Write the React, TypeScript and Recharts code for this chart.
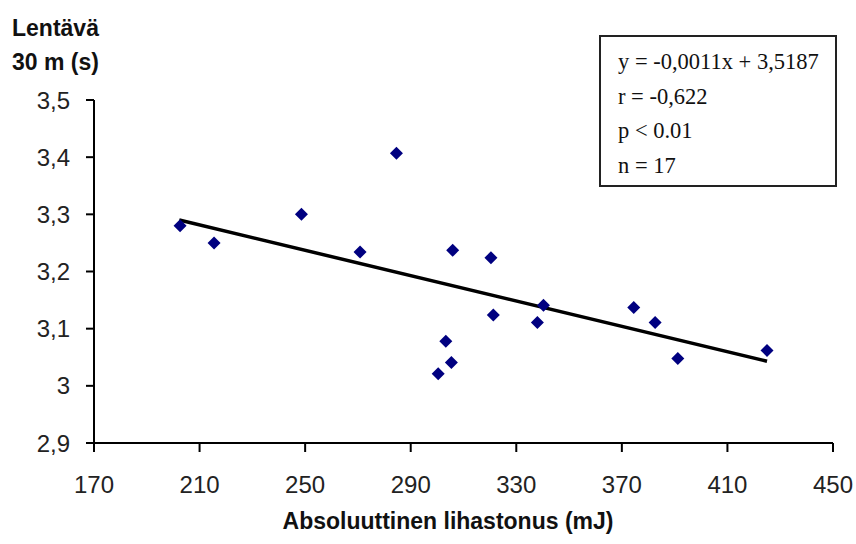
import React from 'react';
import { ScatterChart, Scatter, XAxis, YAxis } from 'recharts';

const tonus = [202.6, 215.5, 248.6, 270.8, 284.6, 305.9, 320.4, 321.3, 303.3, 305.4, 300.4, 340.3, 338.0, 374.5, 382.6, 391.2, 425.0];
const sprint = [3.28, 3.25, 3.3, 3.234, 3.407, 3.237, 3.224, 3.124, 3.078, 3.041, 3.021, 3.141, 3.111, 3.137, 3.111, 3.048, 3.062];
const trendX = [202.3, 425];
const trendY = [3.29, 3.043];
const xTicks = [170, 210, 250, 290, 330, 370, 410, 450];
const yTicks = [2.9, 3.0, 3.1, 3.2, 3.3, 3.4, 3.5];
const statLines = ['y = -0,0011x + 3,5187', 'r = -0,622', 'p < 0.01', 'n = 17'];

const points = tonus.map((x, i) => ({ x, y: sprint[i] }));
const trend = trendX.map((x, i) => ({ x, y: trendY[i] }));

const fmtY = (v: number) => String(Math.round(v * 10) / 10).replace('.', ',');

const sans = '"Liberation Sans", Arial, sans-serif';

// square diamond like the old Excel marker
const Diamond = (props: any) => {
  const { cx, cy } = props;
  const r = 6.5;
  return (
    <polygon
      points={`${cx},${cy - r} ${cx + r},${cy} ${cx},${cy + r} ${cx - r},${cy}`}
      fill="#000080"
    />
  );
};

const App: React.FC = () => {
  return (
    <div style={{ position: 'absolute', left: 0, top: 0, width: 856, height: 544, background: '#fff' }}>
      <ScatterChart width={856} height={544} margin={{ top: 100, right: 23, bottom: 71, left: 0 }}>
        <XAxis
          type="number"
          dataKey="x"
          domain={[170, 450]}
          ticks={xTicks}
          interval={0}
          height={30}
          tickSize={9}
          tickMargin={24}
          axisLine={{ stroke: '#000', strokeWidth: 2 }}
          tickLine={{ stroke: '#000', strokeWidth: 2 }}
          tick={{ fill: '#222', fontSize: 24, fontFamily: sans }}
        />
        <YAxis
          type="number"
          dataKey="y"
          domain={[2.9, 3.5]}
          ticks={yTicks}
          interval={0}
          width={94}
          tickSize={8}
          tickMargin={16}
          tickFormatter={fmtY}
          axisLine={{ stroke: '#000', strokeWidth: 2 }}
          tickLine={{ stroke: '#000', strokeWidth: 2 }}
          tick={{ fill: '#222', fontSize: 24, fontFamily: sans }}
        />
        <Scatter
          data={trend}
          line={{ stroke: '#000', strokeWidth: 3.5 }}
          shape={() => <g />}
          isAnimationActive={false}
        />
        <Scatter data={points} shape={<Diamond />} isAnimationActive={false} />
      </ScatterChart>

      <div style={{ position: 'absolute', left: 12, top: 11, fontFamily: sans, fontWeight: 'bold', fontSize: 23, lineHeight: '34px', color: '#111' }}>
        <div>Lentävä</div>
        <div>30 m (s)</div>
      </div>

      <div
        style={{
          position: 'absolute',
          left: 0,
          width: 896,
          top: 508,
          textAlign: 'center',
          fontFamily: sans,
          fontWeight: 'bold',
          fontSize: 23,
          color: '#111'
        }}
      >
        Absoluuttinen lihastonus (mJ)
      </div>

      <div
        style={{
          position: 'absolute',
          left: 599,
          top: 35,
          width: 234,
          height: 148,
          border: '2px solid #222',
          boxSizing: 'content-box',
          fontFamily: '"Liberation Serif", "Times New Roman", serif',
          fontSize: 22.5,
          color: '#111'
        }}
      >
        {statLines.map((s, i) => (
          <div key={i} style={{ position: 'absolute', left: 17, top: 12 + i * 34.7, whiteSpace: 'nowrap' }}>
            {s}
          </div>
        ))}
      </div>
    </div>
  );
};

export default App;
